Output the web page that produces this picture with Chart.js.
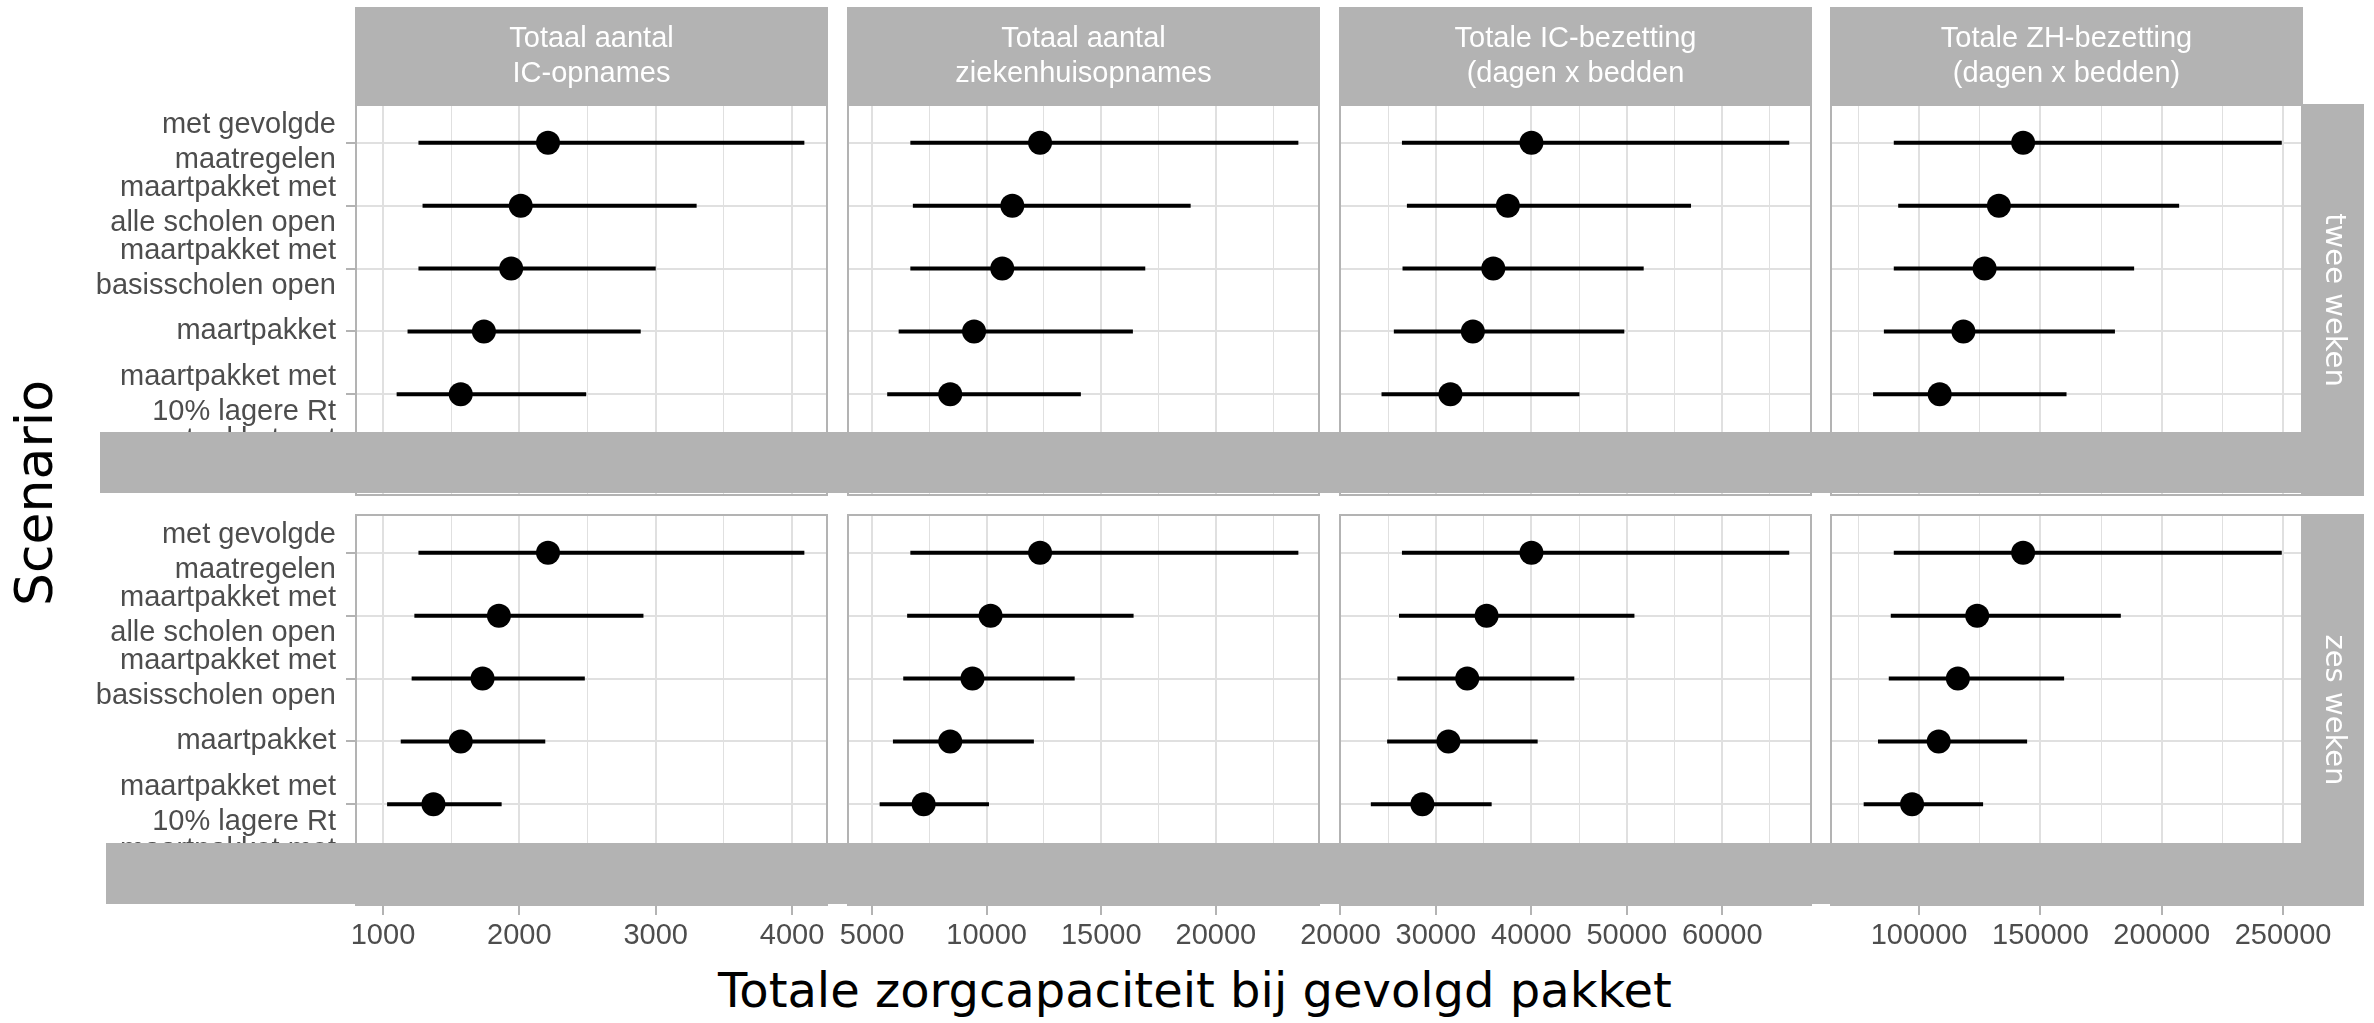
<!DOCTYPE html>
<html>
<head>
<meta charset="utf-8">
<title>Totale zorgcapaciteit bij gevolgd pakket</title>
<script src="https://cdn.jsdelivr.net/npm/chart.js@4.4.0/dist/chart.umd.min.js"></script>
<style>
  html, body { margin: 0; padding: 0; background: #fff; }
  #plot { position: relative; width: 2374px; height: 1023px; overflow: hidden; background: #fff; }
  #plot canvas { position: absolute; top: 0; }
  .band { position: absolute; background: #b3b3b3; z-index: 5; }
  .axis-title { position: absolute; font-family: 'DejaVu Sans', sans-serif; color: #000; white-space: nowrap; }
  #xtitle { left: 1195px; top: 966px; font-size: 48px; line-height: 48px; transform: translateX(-50%); }
  #ytitle { left: 34px; top: 493px; font-size: 52px; line-height: 52px; transform: translate(-50%, -50%) rotate(-90deg); }
</style>
</head>
<body>
<div id="plot">
  <div class="band" style="left:100px; top:432px; width:2264px; height:61px"></div>
  <div class="band" style="left:106px; top:843px; width:2258px; height:61px"></div>
  <div class="axis-title" id="ytitle">Scenario</div>
  <div class="axis-title" id="xtitle">Totale zorgcapaciteit bij gevolgd pakket</div>
</div>
<script>
/**=================
 * Data
 =================*/
// the sixth row only peeks out above the grey bar
const scenarios = [
    ['met gevolgde', 'maatregelen'],
    ['maartpakket met', 'alle scholen open'],
    ['maartpakket met', 'basisscholen open'],
    ['maartpakket'],
    ['maartpakket met', '10% lagere Rt'],
    ['maartpakket met', '']
];
const measures = [
    ['Totaal aantal', 'IC-opnames'],
    ['Totaal aantal', 'ziekenhuisopnames'],
    ['Totale IC-bezetting', '(dagen x bedden'],
    ['Totale ZH-bezetting', '(dagen x bedden)']
];
const periods = ['twee weken', 'zes weken'];

const axisMin = [802, 3950, 19950, 63700];
const axisMax = [4256, 24500, 69300, 257800];
const majorTicks = [
    [1000, 2000, 3000, 4000],
    [5000, 10000, 15000, 20000],
    [20000, 30000, 40000, 50000, 60000],
    [100000, 150000, 200000, 250000]
];

// [twee weken, zes weken]
const icOpnamesLo  = [[1260, 1290, 1260, 1180, 1100], [1260, 1230, 1210, 1130, 1030]];
const icOpnamesMid = [[2210, 2010, 1940, 1740, 1570], [2210, 1850, 1730, 1570, 1370]];
const icOpnamesHi  = [[4090, 3300, 3000, 2890, 2490], [4090, 2910, 2480, 2190, 1870]];

const zhOpnamesLo  = [[6670, 6780, 6670, 6160, 5660], [6670, 6530, 6360, 5910, 5330]];
const zhOpnamesMid = [[12330, 11120, 10680, 9450, 8410], [12330, 10170, 9380, 8410, 7250]];
const zhOpnamesHi  = [[23600, 18900, 16920, 16380, 14110], [23600, 16410, 13840, 12060, 10100]];

const icBezetLo  = [[26440, 26960, 26500, 25590, 24300], [26440, 26130, 25960, 24890, 23180]];
const icBezetMid = [[40010, 37540, 36010, 33870, 31520], [40010, 35310, 33280, 31310, 28580]];
const icBezetHi  = [[67020, 56730, 51770, 49740, 45040], [67020, 50800, 44500, 40660, 35840]];

const zhBezetLo  = [[89570, 91390, 89570, 85490, 81040], [89570, 88330, 87510, 83060, 77160]];
const zhBezetMid = [[142870, 132890, 127000, 118260, 108490], [142870, 123950, 115990, 108080, 97120]];
const zhBezetHi  = [[249460, 207170, 188620, 180710, 160760], [249460, 183140, 159770, 144520, 126380]];

const series = [
    [icOpnamesLo, icOpnamesMid, icOpnamesHi],
    [zhOpnamesLo, zhOpnamesMid, zhOpnamesHi],
    [icBezetLo, icBezetMid, icBezetHi],
    [zhBezetLo, zhBezetMid, zhBezetHi]
];

/**=================
 * Layout
 =================*/
const panelLeft = [356, 848, 1340, 1831];
const panelWidth = 471;
const panelTop = [105, 515];
const panelHeight = 390;
const sideMargin = 60;
const canvasHeight = 960;
const xAxisHeight = 55;
const pageWidth = 2374;

const greyStrip = '#b3b3b3';
const gridColor = '#e0e0e0';
const textGrey = '#4d4d4d';
const labelFont = { family: '"Liberation Sans", Arial, sans-serif', size: 29 };

// major ticks plus the half-way minor grid lines
function gridValues(c) {
    const major = majorTicks[c];
    const step = major[1] - major[0];
    const out = [];
    for (let v = major[0] - step / 2; v <= axisMax[c]; v += step / 2) {
        if (v >= axisMin[c]) out.push(v);
    }
    return out;
}
const isMajor = (c, v) => majorTicks[c].includes(v);

/**=================
 * Facet decoration
 =================*/
const facetPlugin = {
    id: 'facet',
    afterDraw(chart, args, opts) {
        const { ctx, chartArea: a } = chart;
        ctx.save();
        ctx.strokeStyle = greyStrip;
        ctx.lineWidth = 2;
        ctx.strokeRect(a.left, a.top, a.right - a.left, a.bottom - a.top);

        if (opts.top) {
            ctx.fillStyle = greyStrip;
            ctx.fillRect(a.left - 1, 7, a.right - a.left + 2, a.top - 7);
            ctx.fillStyle = '#fff';
            ctx.font = '29px "Liberation Sans", Arial, sans-serif';
            ctx.textAlign = 'center';
            ctx.textBaseline = 'middle';
            const cy = (7 + a.top) / 2;
            opts.top.forEach((line, i) => {
                ctx.fillText(line, (a.left + a.right) / 2, cy + (i - (opts.top.length - 1) / 2) * 35);
            });
        }
        if (opts.side) {
            ctx.fillStyle = greyStrip;
            ctx.fillRect(a.right + 1, a.top - 1, 61, a.bottom - a.top + 2);
            ctx.translate(a.right + 31.5, (a.top + a.bottom) / 2);
            ctx.rotate(Math.PI / 2);
            ctx.fillStyle = '#fff';
            ctx.font = '29px "DejaVu Sans", sans-serif';
            ctx.textAlign = 'center';
            ctx.textBaseline = 'middle';
            ctx.fillText(opts.side, 0, 0);
        }
        ctx.restore();
    }
};

/**=================
 * Panels
 =================*/
const plot = document.getElementById('plot');
const firstBand = plot.querySelector('.band');

function makePanel(r, c) {
    const left = c === 0 ? 0 : panelLeft[c] - sideMargin;
    const right = c === 3 ? pageWidth : panelLeft[c] + panelWidth + sideMargin;
    const canvas = document.createElement('canvas');
    canvas.width = right - left;
    canvas.height = canvasHeight;
    canvas.style.left = left + 'px';
    plot.insertBefore(canvas, firstBand);

    const [lo, mid, hi] = series[c].map(s => s[r]);
    const rangeData = [];
    lo.forEach((v, i) => {
        rangeData.push({ x: v, y: i + 1 }, { x: hi[i], y: i + 1 }, { x: hi[i], y: null });
    });
    const midData = mid.map((v, i) => ({ x: v, y: i + 1 }));

    const bottomPad = r === 0
        ? canvasHeight - (panelTop[0] + panelHeight)
        : canvasHeight - (panelTop[1] + panelHeight) - xAxisHeight;

    return new Chart(canvas, {
        type: 'scatter',
        data: {
            datasets: [{
                data: rangeData,
                showLine: true,
                spanGaps: false,
                borderColor: '#000',
                borderWidth: 4,
                pointRadius: 0,
                pointHoverRadius: 0
            }, {
                data: midData,
                showLine: false,
                pointRadius: 12,
                pointHoverRadius: 12,
                pointBackgroundColor: '#000',
                pointBorderWidth: 0
            }]
        },
        options: {
            responsive: false,
            animation: false,
            devicePixelRatio: 1,
            events: [],
            layout: {
                padding: {
                    left: c === 0 ? 0 : sideMargin,
                    right: c === 3 ? pageWidth - (panelLeft[3] + panelWidth) : sideMargin,
                    top: panelTop[r],
                    bottom: bottomPad
                }
            },
            scales: {
                x: {
                    type: 'linear',
                    min: axisMin[c],
                    max: axisMax[c],
                    afterBuildTicks: s => { s.ticks = gridValues(c).map(v => ({ value: v })); },
                    afterFit: s => { s.height = r === 1 ? xAxisHeight : 0; },
                    border: { display: false },
                    grid: {
                        color: gridColor,
                        lineWidth: ctx => (ctx.tick && isMajor(c, ctx.tick.value)) ? 2 : 1,
                        drawTicks: r === 1,
                        tickLength: 10,
                        tickWidth: 2,
                        tickColor: ctx => (ctx.tick && isMajor(c, ctx.tick.value)) ? greyStrip : 'rgba(0,0,0,0)'
                    },
                    ticks: {
                        display: r === 1,
                        autoSkip: false,
                        maxRotation: 0,
                        padding: 4,
                        color: textGrey,
                        font: labelFont,
                        callback: v => isMajor(c, v) ? String(v) : ''
                    }
                },
                y: {
                    type: 'linear',
                    reverse: true,
                    min: 0.4,
                    max: scenarios.length + 0.6,
                    afterBuildTicks: s => { s.ticks = scenarios.map((_, i) => ({ value: i + 1 })); },
                    afterFit: s => { s.width = c === 0 ? panelLeft[0] : 0; },
                    border: { display: false },
                    grid: {
                        color: gridColor,
                        lineWidth: 2,
                        drawTicks: c === 0,
                        tickLength: 10,
                        tickWidth: 2,
                        tickColor: greyStrip
                    },
                    ticks: {
                        display: c === 0,
                        padding: 10,
                        color: textGrey,
                        font: labelFont,
                        callback: v => scenarios[v - 1]
                    }
                }
            },
            plugins: {
                legend: { display: false },
                tooltip: { enabled: false },
                facet: {
                    top: r === 0 ? measures[c] : null,
                    side: c === 3 ? periods[r] : null
                }
            }
        },
        plugins: [facetPlugin]
    });
}

periods.forEach((p, r) => {
    measures.forEach((m, c) => makePanel(r, c));
});
</script>
</body>
</html>
